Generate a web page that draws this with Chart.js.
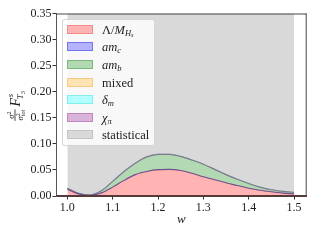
<!DOCTYPE html>
<html><head><meta charset="utf-8">
<script src="https://cdn.jsdelivr.net/npm/chart.js@4.4.0/dist/chart.umd.min.js"></script>
<style>
html,body{margin:0;padding:0;background:#fff;}
#wrap{position:relative;width:320px;height:240px;}
#legend{position:absolute;left:62px;top:19px;width:93px;height:127px;background:rgba(255,255,255,0.8);border:1px solid rgba(204,204,204,0.8);border-radius:3px;box-sizing:border-box;font-family:"Liberation Serif",serif;font-size:12.5px;color:#222;}
.row{position:absolute;left:0;width:90px;height:16px;}
.patch{position:absolute;left:4px;top:3px;width:26px;height:9px;box-sizing:border-box;}
.lab{position:absolute;left:39px;top:0;line-height:16px;white-space:nowrap;}
.lab sub{font-size:8.5px;vertical-align:-2px;}
.lab sub sub{font-size:6.5px;vertical-align:-1px;}
</style></head>
<body><div id="wrap"><canvas id="c" width="320" height="240"></canvas><div id="legend"></div></div>
<script>
// ---- data ----
const w         = [1.0, 1.025, 1.05, 1.075, 1.1, 1.125, 1.15, 1.175, 1.2, 1.225, 1.25, 1.275, 1.3, 1.325, 1.35, 1.375, 1.4, 1.425, 1.45, 1.475, 1.5];
const lambdaM   = [0.013, 0.004, 0.001, 0.006, 0.017, 0.030, 0.041, 0.047, 0.0505, 0.051, 0.049, 0.0435, 0.037, 0.031, 0.0255, 0.020, 0.015, 0.011, 0.008, 0.0055, 0.004];
const amC       = [0, 0, 0, 0, 0, 0, 0, 0, 0, 0, 0, 0, 0, 0, 0, 0, 0, 0, 0, 0, 0];
const amB       = [0.002, 0.001, 0.001, 0.004, 0.011, 0.017, 0.022, 0.028, 0.0295, 0.029, 0.027, 0.0255, 0.024, 0.020, 0.0155, 0.012, 0.009, 0.006, 0.004, 0.0035, 0.003];
const mixed     = [0, 0, 0, 0, 0, 0, 0, 0, 0, 0, 0, 0, 0, 0, 0, 0, 0, 0, 0, 0, 0];
const deltaM    = [0, 0, 0, 0, 0, 0, 0, 0, 0, 0, 0, 0, 0, 0, 0, 0, 0, 0, 0, 0, 0];
const chiPi     = [0, 0, 0, 0, 0, 0, 0, 0, 0, 0, 0, 0, 0, 0, 0, 0, 0, 0, 0, 0, 0];
const statistical = [0.4, 0.4, 0.4, 0.4, 0.4, 0.4, 0.4, 0.4, 0.4, 0.4, 0.4, 0.4, 0.4, 0.4, 0.4, 0.4, 0.4, 0.4, 0.4, 0.4, 0.4];
const xTicks = [1.0, 1.1, 1.2, 1.3, 1.4, 1.5];
const yTicks = [0.00, 0.05, 0.10, 0.15, 0.20, 0.25, 0.30, 0.35];
const legendLabels = [
  'Λ/<i>M</i><sub><i>H</i><sub><i>s</i></sub></sub>',
  '<i>am</i><sub><i>c</i></sub>',
  '<i>am</i><sub><i>b</i></sub>',
  'mixed',
  '<i>δ</i><sub><i>m</i></sub>',
  '<i>χ</i><sub><i>π</i></sub>',
  'statistical'
];
// ---------------------------------------

const pts = arr => w.map((x, i) => ({x: x, y: arr[i]}));
const series = [
  {label:'Λ/M_Hs', data: lambdaM, bg:'rgb(255,179,179)', bd:'rgba(255,0,0,0.15)', lg:'rgba(240,120,120,0.7)', fill:'origin', bw:1},
  {label:'am_c', data: amC, bg:'rgb(179,179,255)', bd:'rgba(60,60,150,0.8)', lg:'rgba(90,90,230,0.7)', fill:'-1', bw:1.1},
  {label:'am_b', data: amB, bg:'rgb(179,217,179)', bd:'rgba(0,128,0,0.12)', lg:'rgba(100,170,100,0.7)', fill:'-1', bw:1},
  {label:'mixed', data: mixed, bg:'rgb(255,228,179)', bd:'rgba(220,160,60,0.2)', lg:'rgba(240,190,110,0.7)', fill:'-1', bw:1},
  {label:'δ_m', data: deltaM, bg:'rgb(179,255,255)', bd:'rgba(60,170,190,0.2)', lg:'rgba(110,230,230,0.7)', fill:'-1', bw:1},
  {label:'χ_π', data: chiPi, bg:'rgb(217,179,217)', bd:'rgba(120,100,165,0.9)', lg:'rgba(180,120,180,0.7)', fill:'-1', bw:1.2},
  {label:'statistical', data: statistical, bg:'rgb(217,217,217)', bd:'rgba(150,150,150,0.5)', lg:'rgba(190,190,190,0.8)', fill:'-1', bw:1}
];

const frame = {
  id:'frame',
  afterDraw(chart){
    const ctx = chart.ctx, a = chart.chartArea;
    ctx.save();
    ctx.lineWidth = 1;
    ctx.strokeStyle = '#444';
    ctx.beginPath();
    ctx.moveTo(a.left, a.top+0.5); ctx.lineTo(a.right, a.top+0.5);
    ctx.moveTo(a.right-0.5, a.top); ctx.lineTo(a.right-0.5, a.bottom);
    ctx.stroke();
    ctx.strokeStyle = '#553a3a';
    ctx.beginPath();
    ctx.moveTo(a.left, a.bottom-0.5); ctx.lineTo(a.right, a.bottom-0.5);
    ctx.stroke();
    const cx = 15, cy = (a.top + a.bottom) / 2;
    ctx.translate(cx, cy);
    ctx.rotate(-Math.PI/2);
    ctx.fillStyle = '#222';
    ctx.textBaseline = 'alphabetic';
    ctx.textAlign = 'left';
    const f = (s, px) => (s ? 'italic ' : '') + px + 'px "Liberation Serif", serif';
    ctx.font = f(1, 8.5); const wSig = ctx.measureText('σ').width;
    ctx.font = f(0, 6); const w2 = ctx.measureText('2').width;
    ctx.font = f(1, 6); const wTot = ctx.measureText('tot').width;
    const fracW = wSig + Math.max(w2, wTot) + 1;
    ctx.font = f(1, 14); const wF = ctx.measureText('F').width;
    ctx.font = f(1, 9); const wT = ctx.measureText('T').width;
    ctx.font = f(0, 6.5); const w3 = ctx.measureText('3').width;
    const total = fracW + 3 + wF + wT + w3 + 1;
    let x0 = -total / 2;
    const base = 4.5;
    const barY = base - 4.5;
    const numW = wSig + w2;
    let nx = x0 + (fracW - numW) / 2;
    ctx.font = f(1, 8.5); ctx.fillText('σ', nx, barY - 1.5);
    ctx.font = f(0, 6); ctx.fillText('2', nx + wSig, barY - 4.5);
    ctx.fillRect(x0, barY - 0.4, fracW, 0.8);
    let dx = x0 + 0.5;
    ctx.font = f(1, 8.5); ctx.fillText('σ', dx, barY + 8);
    ctx.font = f(0, 6); ctx.fillText('2', dx + wSig, barY + 5);
    ctx.font = f(1, 6); ctx.fillText('tot', dx + wSig, barY + 10);
    let fx = x0 + fracW + 3;
    ctx.font = f(1, 14); ctx.fillText('F', fx, base);
    fx += wF;
    ctx.font = f(1, 9); ctx.fillText('s', fx + 0.5, base - 6.5);
    ctx.fillText('T', fx - 1.5, base + 3.5);
    ctx.font = f(0, 6.5); ctx.fillText('3', fx - 1.5 + wT, base + 5.5);
    ctx.restore();
  }
};

const chart = new Chart(document.getElementById('c'), {
  type: 'line',
  data: {
    datasets: series.map(s => ({
      label: s.label, data: pts(s.data), backgroundColor: s.bg, borderColor: s.bd,
      borderWidth: s.bw, fill: s.fill, pointRadius: 0, cubicInterpolationMode: 'monotone'
    }))
  },
  options: {
    responsive: false, animation: false,
    layout: {padding: {left: 0, top: 13.5, right: 13.3, bottom: 0}},
    plugins: {legend: {display: false}, tooltip: {enabled: false}, filler: {drawTime: 'beforeDatasetsDraw'}},
    scales: {
      x: {
        type: 'linear', min: 0.975, max: 1.528,
        afterBuildTicks: s => { s.ticks = xTicks.map(v => ({value: v})); },
        afterFit: s => { s.height = 44; },
        ticks: {callback: v => v.toFixed(1), color: '#222', padding: 1.5, maxRotation: 0,
                font: {family: '"Liberation Serif", serif', size: 12}},
        grid: {drawOnChartArea: false, tickLength: 3.5, tickColor: '#333', tickWidth: 1},
        border: {display: true, color: '#553a3a', width: 1},
        title: {display: true, text: 'w', color: '#222', padding: {top: 0, bottom: 13},
                font: {family: '"Liberation Serif", serif', size: 13, style: 'italic'}}
      },
      y: {
        type: 'linear', min: 0, max: 0.35, stacked: true,
        afterBuildTicks: s => { s.ticks = yTicks.map(v => ({value: v})); },
        afterFit: s => { s.width = 56; },
        ticks: {callback: v => v.toFixed(2), color: '#222', padding: 1,
                font: {family: '"Liberation Serif", serif', size: 12}},
        grid: {drawOnChartArea: false, tickLength: 3.5, tickColor: '#333', tickWidth: 1},
        border: {display: true, color: '#555', width: 1}
      }
    }
  },
  plugins: [frame]
});

const leg = document.getElementById('legend');
chart.data.datasets.forEach((ds, i) => {
  const row = document.createElement('div');
  row.className = 'row';
  row.style.top = (10.7 + i * 17.63 - 1 - 8) + 'px';
  const p = document.createElement('div');
  p.className = 'patch';
  p.style.background = ds.backgroundColor;
  p.style.border = '1px solid ' + series[i].lg;
  const l = document.createElement('div');
  l.className = 'lab';
  l.innerHTML = legendLabels[i];
  row.appendChild(p); row.appendChild(l);
  leg.appendChild(row);
});
</script></body></html>
